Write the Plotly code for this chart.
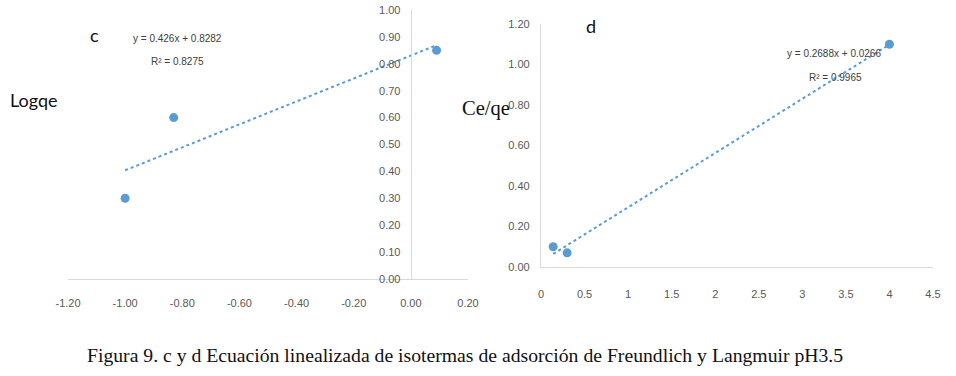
import numpy as np
import plotly.graph_objects as go

W, H = 956, 376

# ---- data: panel c (Freundlich) ----
c_x = [-1.00, -0.83, 0.09]
c_y = [0.30, 0.60, 0.85]
c_eq = "y = 0.426x + 0.8282"
c_r2 = "R² = 0.8275"
c_xticks = [-1.2, -1.0, -0.8, -0.6, -0.4, -0.2, 0.0, 0.2]
c_xticktext = ["-1.20", "-1.00", "-0.80", "-0.60", "-0.40", "-0.20", "0.00", "0.20"]
c_yticks = [0.0, 0.1, 0.2, 0.3, 0.4, 0.5, 0.6, 0.7, 0.8, 0.9, 1.0]
c_yticktext = ["0.00", "0.10", "0.20", "0.30", "0.40", "0.50", "0.60", "0.70", "0.80", "0.90", "1.00"]

# ---- data: panel d (Langmuir) ----
d_x = [0.14, 0.30, 4.00]
d_y = [0.10, 0.07, 1.10]
d_eq = "y = 0.2688x + 0.0266"
d_r2 = "R² = 0.9965"
d_xticks = [0, 0.5, 1, 1.5, 2, 2.5, 3, 3.5, 4, 4.5]
d_xticktext = ["0", "0.5", "1", "1.5", "2", "2.5", "3", "3.5", "4", "4.5"]
d_yticks = [0.0, 0.2, 0.4, 0.6, 0.8, 1.0, 1.2]
d_yticktext = ["0.00", "0.20", "0.40", "0.60", "0.80", "1.00", "1.20"]

caption = "Figura 9. c y d Ecuación linealizada de isotermas de adsorción de Freundlich y Langmuir pH3.5"

BLUE = "#5b9bd5"
AXIS = "#d9d9d9"
TICK = "#595959"
TICKFONT = dict(family="Liberation Sans, Arial, sans-serif", size=11, color=TICK)


def px(x):
    return x / W


def py(y):
    return 1 - y / H


def trend(xs, ys):
    m, b = np.polyfit(xs, ys, 1)
    xx = np.array([min(xs), max(xs)])
    return xx, m * xx + b


fig = go.Figure()

tx, ty = trend(c_x, c_y)
fig.add_trace(go.Scatter(x=tx, y=ty, mode="lines", line=dict(color=BLUE, width=2, dash="dot"),
                         xaxis="x", yaxis="y", showlegend=False, hoverinfo="skip"))
fig.add_trace(go.Scatter(x=c_x, y=c_y, mode="markers", marker=dict(color=BLUE, size=9),
                         xaxis="x", yaxis="y", showlegend=False))

tx, ty = trend(d_x, d_y)
fig.add_trace(go.Scatter(x=tx, y=ty, mode="lines", line=dict(color=BLUE, width=2, dash="dot"),
                         xaxis="x2", yaxis="y2", showlegend=False, hoverinfo="skip"))
fig.add_trace(go.Scatter(x=d_x, y=d_y, mode="markers", marker=dict(color=BLUE, size=9),
                         xaxis="x2", yaxis="y2", showlegend=False))

# panel c geometry
c_left, c_right = 68, 468
c_bottom, c_top = 279, 10
x0_pix = c_left + (0 - (-1.2)) / 1.4 * (c_right - c_left)

# panel d geometry
d_left, d_right = 541, 933
d_bottom, d_top = 267, 24

common_axis = dict(showgrid=False, zeroline=False, showline=True, linecolor=AXIS, linewidth=1.3,
                   tickfont=TICKFONT, ticks="outside", tickcolor="rgba(0,0,0,0)", fixedrange=True,
                   automargin=False)

fig.update_layout(
    template="none",
    width=W, height=H,
    margin=dict(l=0, r=0, t=0, b=0, pad=0),
    paper_bgcolor="white", plot_bgcolor="white",
    xaxis=dict(domain=[px(c_left), px(c_right)], range=[-1.2, 0.2], anchor="y",
               tickvals=c_xticks, ticktext=c_xticktext, ticklen=14, **common_axis),
    yaxis=dict(domain=[py(c_bottom), py(c_top)], range=[0, 1.0], anchor="free", position=px(x0_pix),
               tickvals=c_yticks, ticktext=c_yticktext, ticklen=8, **common_axis),
    xaxis2=dict(domain=[px(d_left), px(d_right)], range=[0, 4.5], anchor="y2",
                tickvals=d_xticks, ticktext=d_xticktext, ticklen=17, **common_axis),
    yaxis2=dict(domain=[py(d_bottom), py(d_top)], range=[0, 1.2], anchor="x2",
                tickvals=d_yticks, ticktext=d_yticktext, ticklen=8, **common_axis),
)

EQFONT = dict(family="Liberation Sans, Arial, sans-serif", size=10, color="#404040")
LABELFONT = dict(family="Lato, Open Sans, sans-serif", size=18, color="#111111")
SERIF = dict(family="Liberation Serif, Times New Roman, serif", size=20.5, color="#111111")

ann = [
    (94, 35, "c", LABELFONT),
    (591, 26, "d", LABELFONT),
    (34, 100, "Logqe", LABELFONT),
    (486, 108, "Ce/qe", SERIF),
    (177, 38, c_eq, EQFONT),
    (177, 61, c_r2, EQFONT),
    (834, 53, d_eq, EQFONT),
    (835, 78, d_r2, EQFONT),
    (465, 355, caption, dict(SERIF, size=19.7)),
]
for x, y, t, f in ann:
    fig.add_annotation(x=px(x), y=py(y), xref="paper", yref="paper", text=t, showarrow=False,
                       font=f, xanchor="center", yanchor="middle")

fig.write_html("out.html", config={"displayModeBar": False},
               post_script="document.body.style.margin='0';document.body.style.padding='0';")
